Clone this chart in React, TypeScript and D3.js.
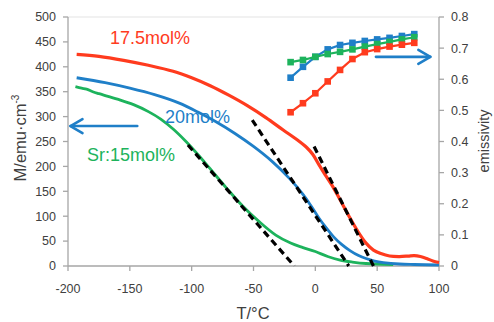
import React from 'react';
import * as d3 from 'd3';

// magnetization curves, [T in °C, M in emu/cm3]
const mag175: [number, number][] = [
  [-193, 425], [-175, 421], [-155, 413], [-135, 403], [-115, 391], [-100, 378],
  [-85, 362], [-70, 343], [-55, 322], [-40, 298], [-26, 273], [-15, 254],
  [-7, 238], [-2, 224], [3, 203], [8, 183], [14, 160], [20, 133], [27, 101],
  [34, 71], [41, 46], [47, 32], [53, 25], [60, 20], [68, 19], [75, 20],
  [80, 21], [85, 19], [90, 15], [95, 10], [100, 7],
];
const mag20: [number, number][] = [
  [-193, 378], [-170, 368], [-150, 357], [-130, 344], [-110, 327], [-95, 309],
  [-80, 289], [-65, 266], [-50, 240], [-35, 210], [-21, 176], [-10, 144],
  [-3, 119], [3, 96], [9, 76], [15, 58], [21, 44], [28, 31], [35, 21],
  [41, 15], [48, 10], [55, 7], [68, 4], [80, 3], [100, 2],
];
const mag15: [number, number][] = [
  [-194, 360], [-189, 357], [-185, 355], [-180, 350], [-175, 346], [-160, 335],
  [-147, 324], [-135, 310], [-125, 295], [-115, 275], [-105, 251], [-95, 224],
  [-86, 198], [-72, 157], [-59, 121], [-45, 88], [-32, 62], [-20, 46],
  [-10, 37], [0, 29], [10, 19], [20, 12], [30, 8], [41, 5], [63, 3],
];

// tangent (dashed) lines
const tangents: [number, number][][] = [
  [[-103, 243], [-17, 0]],
  [[-51, 293], [27, 0]],
  [[-1, 240], [47, 0]],
];

// emissivity (right axis)
const emisTemps = [-20, -10, 0, 10, 20, 30, 40, 50, 60, 70, 80];
const emis175 = [0.494, 0.523, 0.555, 0.593, 0.63, 0.665, 0.687, 0.697, 0.705, 0.711, 0.717];
const emis20 = [0.605, 0.64, 0.672, 0.696, 0.71, 0.717, 0.723, 0.728, 0.733, 0.739, 0.745];
const emis15 = [0.655, 0.662, 0.672, 0.681, 0.688, 0.696, 0.705, 0.713, 0.72, 0.728, 0.735];

const xTicks = [-200, -150, -100, -50, 0, 50, 100];
const yTicks = [0, 50, 100, 150, 200, 250, 300, 350, 400, 450, 500];
const y2Ticks = [0, 0.1, 0.2, 0.3, 0.4, 0.5, 0.6, 0.7, 0.8];

// series labels [text, T, M]
const labels: [string, number, number, string][] = [
  ['17.5mol%', -166, 446, 'red'],
  ['20mol%', -121.5, 287, 'blue'],
  ['Sr:15mol%', -184.6, 211, 'green'],
];

const colors: Record<string, string> = {
  red: '#ff3b1e',
  blue: '#1f7fc8',
  green: '#1db35c',
};

const axisColor = '#a6a6a6';
const textColor = '#404040';
const font = '"Liberation Sans", Arial, sans-serif';

export default function App() {
  const x = d3.scaleLinear().domain([-200, 100]).range([68, 439]);
  const y = d3.scaleLinear().domain([0, 500]).range([266, 17]);
  const y2 = d3.scaleLinear().domain([0, 0.8]).range([266, 17]);

  const magLine = d3.line<[number, number]>()
    .x(d => x(d[0]))
    .y(d => y(d[1]))
    .curve(d3.curveCatmullRom.alpha(0.5));
  const straight = d3.line<[number, number]>().x(d => x(d[0])).y(d => y(d[1]));
  const emisLine = d3.line<number>()
    .x((_, i) => x(emisTemps[i]))
    .y(d => y2(d));

  const emisSeries: [number[], string][] = [
    [emis20, colors.blue],
    [emis15, colors.green],
    [emis175, colors.red],
  ];

  // arrows (left points to M axis, right to emissivity axis)
  const lA = { x1: x(-144), x2: x(-198), yy: y(281) };
  const rA = { x1: x(49), x2: x(93), yy: y2(0.672) };

  return (
    <svg width={494} height={322} style={{ position: 'absolute', left: 0, top: 0, background: '#fff' }}
      fontFamily={font}>
      {/* top frame line */}
      <line x1={68} x2={439} y1={y(500)} y2={y(500)} stroke="#e3e3e3" strokeWidth={1} />

      {/* left axis */}
      <line x1={68} x2={68} y1={y(0)} y2={y(500)} stroke={axisColor} strokeWidth={1.3} />
      {yTicks.map(t => (
        <g key={'y' + t}>
          <line x1={63} x2={68} y1={y(t)} y2={y(t)} stroke={axisColor} strokeWidth={1.3} />
          <text x={56} y={y(t)} dy="0.35em" textAnchor="end" fontSize={12.5} fill={textColor}>{t}</text>
        </g>
      ))}

      {/* right axis */}
      <line x1={439} x2={439} y1={y2(0)} y2={y2(0.8)} stroke={axisColor} strokeWidth={1.3} />
      {y2Ticks.map(t => (
        <g key={'r' + t}>
          <line x1={439} x2={444} y1={y2(t)} y2={y2(t)} stroke={axisColor} strokeWidth={1.3} />
          <text x={451} y={y2(t)} dy="0.35em" textAnchor="start" fontSize={12.5} fill={textColor}>
            {t === 0 ? '0' : t.toFixed(1)}
          </text>
        </g>
      ))}

      {/* x axis */}
      <line x1={68} x2={439} y1={y(0)} y2={y(0)} stroke={axisColor} strokeWidth={1.3} />
      {xTicks.map(t => (
        <g key={'x' + t}>
          <line x1={x(t)} x2={x(t)} y1={y(0)} y2={y(0) + 5} stroke={axisColor} strokeWidth={1.3} />
          <text x={x(t)} y={293} textAnchor="middle" fontSize={12.5} fill={textColor}>{t}</text>
        </g>
      ))}

      {/* axis titles */}
      <text x={253} y={319} textAnchor="middle" fontSize={16.5} fill={textColor}>T/°C</text>
      <text transform="translate(26,138) rotate(-90)" textAnchor="middle" fontSize={16.5} fill={textColor}>
        M/emu·cm<tspan fontSize={10} dy={-7}>-3</tspan>
      </text>
      <text transform="translate(489,141) rotate(-90)" textAnchor="middle" fontSize={14.5} fill={textColor}>
        emissivity
      </text>

      {/* magnetization curves */}
      <path d={magLine(mag15) || ''} fill="none" stroke={colors.green} strokeWidth={2.8} strokeLinejoin="round" />
      <path d={magLine(mag20) || ''} fill="none" stroke={colors.blue} strokeWidth={2.8} strokeLinejoin="round" />
      <path d={magLine(mag175) || ''} fill="none" stroke={colors.red} strokeWidth={3.2} strokeLinejoin="round" />

      {/* tangent lines */}
      {tangents.map((t, i) => (
        <path key={'t' + i} d={straight(t) || ''} fill="none" stroke="#000" strokeWidth={3.2}
          strokeDasharray="7,4.5" />
      ))}

      {/* emissivity */}
      {emisSeries.map(([vals, c], i) => (
        <g key={'e' + i}>
          <path d={emisLine(vals) || ''} fill="none" stroke={c} strokeWidth={2.2} />
          {vals.map((v, j) => (
            <rect key={j} x={x(emisTemps[j]) - 3.3} y={y2(v) - 3.3} width={6.6} height={6.6} fill={c} />
          ))}
        </g>
      ))}

      {/* arrows */}
      <g fill="none" stroke={colors.blue} strokeWidth={2.6} strokeLinecap="round" strokeLinejoin="round">
        <line x1={lA.x1} x2={lA.x2} y1={lA.yy} y2={lA.yy} />
        <polyline points={`${lA.x2 + 12},${lA.yy - 7} ${lA.x2},${lA.yy} ${lA.x2 + 12},${lA.yy + 7}`} />
        <line x1={rA.x1} x2={rA.x2} y1={rA.yy} y2={rA.yy} />
        <polyline points={`${rA.x2 - 12},${rA.yy - 7} ${rA.x2},${rA.yy} ${rA.x2 - 12},${rA.yy + 7}`} />
      </g>

      {/* series labels */}
      {labels.map(([s, t, m, c]) => (
        <text key={s} x={x(t)} y={y(m)} fontSize={18} fill={colors[c]}>{s}</text>
      ))}
    </svg>
  );
}
